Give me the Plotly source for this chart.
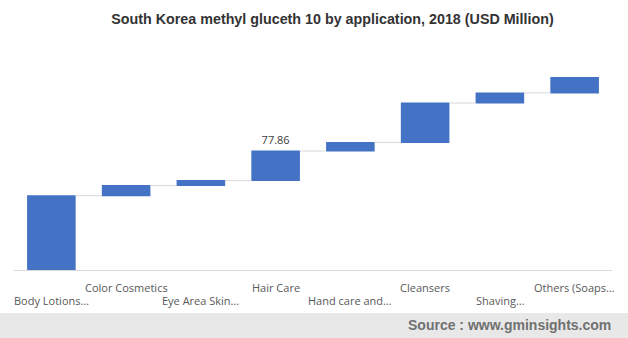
import plotly.graph_objects as go

categories = ["Body Lotions…", "Color Cosmetics", "Eye Area Skin…", "Hair Care",
              "Hand care and…", "Cleansers", "Shaving…", "Others (Soaps…"]
increments = [48.6, 6.6, 3.3, 19.36, 5.6, 25.8, 6.6, 10.1]
bar_labels = ["", "", "", "77.86", "", "", "", ""]

fig = go.Figure(go.Waterfall(
    x=categories,
    y=increments,
    measure=["relative"] * len(increments),
    text=bar_labels,
    textinfo="text",
    textposition="outside",
    textfont=dict(family="Open Sans", size=11, color="#404040"),
    increasing=dict(marker=dict(color="#4472C4", line=dict(width=0))),
    decreasing=dict(marker=dict(color="#4472C4", line=dict(width=0))),
    connector=dict(line=dict(color="#d9d9d9", width=1), mode="between"),
    width=[0.65] * len(increments),
    hoverinfo="x+y",
))

# staggered category labels (Excel style): odd index on first row, even on second row
label_annotations = []
for i, c in enumerate(categories):
    row_y = -17.3 / 214 if i % 2 == 1 else -30.3 / 214
    label_annotations.append(dict(
        text=c, xref="x", yref="paper", x=c, y=row_y,
        xanchor="center", yanchor="middle", showarrow=False,
        font=dict(family="Open Sans", size=11, color="#595959"),
    ))

fig.update_layout(
    width=628, height=338,
    margin=dict(l=14, r=16, t=56, b=68, autoexpand=False),
    paper_bgcolor="white", plot_bgcolor="white",
    showlegend=False,
    title=dict(
        text="South Korea methyl gluceth 10 by application, 2018 (USD Million)",
        x=332.5 / 628, xanchor="center", xref="container",
        y=1 - 19 / 338, yanchor="middle", yref="container",
        font=dict(family="Liberation Sans, Arial", size=14.3, color="#333333", weight="bold"),
    ),
    xaxis=dict(
        range=[-0.5, len(categories) - 0.5],
        showline=True, linecolor="#d9d9d9", linewidth=1,
        showgrid=False, ticks="", zeroline=False, showticklabels=False,
    ),
    yaxis=dict(range=[0, 140], visible=False, showgrid=False, zeroline=False),
    shapes=[dict(
        type="rect", xref="paper", yref="paper",
        x0=-14 / 598, x1=1 + 16 / 598,
        y0=-68 / 214, y1=-43 / 214,
        fillcolor="#e8e8e8", line=dict(width=0), layer="below",
    )],
    annotations=label_annotations + [dict(
        text="Source : www.gminsights.com",
        xref="paper", yref="paper",
        x=(613 - 14) / 598, xanchor="right",
        y=-55 / 214, yanchor="middle",
        showarrow=False,
        font=dict(family="Liberation Sans, Arial", size=14, color="#707070", weight="bold"),
    )],
)

fig.write_html("out.html")
